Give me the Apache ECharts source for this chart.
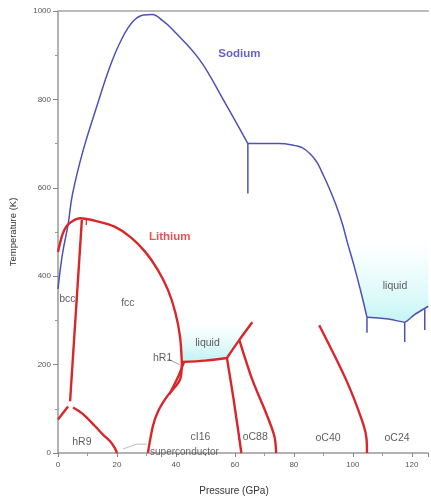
<!DOCTYPE html>
<html><head><meta charset="utf-8">
<script src="https://cdn.jsdelivr.net/npm/echarts@6/dist/echarts.min.js"></script>
<style>html,body{margin:0;padding:0;background:#fff}#c{width:431px;height:501px}</style>
</head><body><div id="c"></div>
<script>
// Tick labels
const xTickLabels = [0, 20, 40, 60, 80, 100, 120];
const yTickLabels = [0, 200, 400, 600, 800, 1000];

// Sodium (P [GPa], T [K])
const naMelt = [[0,371],[1.5,450],[3.4,516],[4.9,585],[8.5,684],[13.2,785],[17.6,874],[21.5,935],[25.4,976],[29,991],[32,992],[35.5,978],[39,957],[48,890],[56,800],[64.4,700]];
const naPlateau = [[64.4,700],[75,700],[79.4,697],[82.8,691],[85.5,677],[87.9,657],[89.9,630],[92,599],[94.3,561],[96.4,520],[98,480],[100.4,424],[102.8,363],[104.8,307]];
const naLow = [[104.8,307],[112.2,303],[117.6,296],[120.7,312],[125.6,332]];
const naVert = [[64.4,700],[64.4,587]];
const naTick1 = [[104.8,307],[104.8,272]];
const naTick2 = [[117.6,296],[117.6,251]];
const naTick3 = [[124.4,325],[124.4,278]];

// Lithium
const liMelt = [[0,455],[1.5,494],[3,514],[5,525],[7.5,531],[13.4,524],[19.2,512],[24.7,488],[29.6,455],[33.8,415],[37.3,369],[39.8,318],[41.4,263],[42,206]];
const liBccFcc = [[8.1,528],[4.1,117]];
const liPeakTick = [[9.6,531],[9.6,516]];
const liHR9Left = [[0,76],[3.4,105]];
const liHR9Right = [[5.1,103],[8.5,88],[12.5,61],[15.5,40],[17.6,27],[19.3,11],[20,0]];
const liFccCI16 = [[30.5,0],[32.2,61],[34,95],[37,128],[41.4,166],[42,206]];
const liHR1 = [[37.8,133],[40.6,170],[42.7,205]];
const liTriple = [[42,206],[50,209],[57.3,215]];
const liUpper = [[57.3,215],[61.5,256],[65.9,296]];
const liCI16OC88 = [[57.3,215],[59.6,120],[62.2,0]];
const liOC88OC40 = [[61.5,256],[65.9,166],[70.6,90],[73.4,38],[74,0]];
const liOC40OC24 = [[88.6,289],[97.7,166],[103,76],[104.6,35],[104.8,0]];

// Leader lines
const hR1Leader = [[37.2,213],[41.2,200]];
const scLeader = [[22,9],[26.7,20],[30,20]];

// Region labels [text, P, T]
const regionLabels = [
  ['bcc',3.2,357],['fcc',23.7,348],['liquid',50.7,258],['hR1',35.5,224],
  ['hR9',8.1,34],['cI16',48.3,45],['oC88',66.9,45],['oC40',91.6,43],
  ['oC24',115,43],['liquid',114.3,386]
];
const titleLabels = [['Sodium',61.5,906,'#3b3bb8'],['Lithium',37.9,491,'#e02828']];
const smallLabels = [['superconductor',42.9,11]];

const NA = '#5050b4', LI = '#d9262a';
function line(data, color, width, smooth, extra) {
  return Object.assign({type:'line', data:data, showSymbol:false, symbol:'none', smooth:smooth||0,
    lineStyle:{color:color, width:width}, silent:true, z:3}, extra||{});
}
const liFill = {origin:'end', color:new echarts.graphic.LinearGradient(0,322,0,367,[
  {offset:0,color:'rgba(190,245,245,0)'},{offset:1,color:'rgba(140,230,230,0.95)'}],true)};
const naFill = {origin:'end', color:new echarts.graphic.LinearGradient(0,240,0,325,[
  {offset:0,color:'rgba(200,248,248,0)'},{offset:1,color:'rgba(165,238,238,0.95)'}],true)};

const series = [
  line(liTriple, LI, 2.4, 0.3, {areaStyle:liFill, z:2}),
  line(liUpper, LI, 2.4, 0.2, {areaStyle:liFill, z:2}),
  line(naPlateau, NA, 1.5, 0.3, {areaStyle:naFill, z:2}),
  line(naLow, NA, 1.5, 0.2, {areaStyle:naFill, z:2}),
  line(naMelt, NA, 1.5, 0.4),
  line(naVert, NA, 1.5),
  line(naTick1, NA, 1.5),
  line(naTick2, NA, 1.5),
  line(naTick3, NA, 1.5),
  line(liMelt, LI, 2.4, 0.3),
  line(liBccFcc, LI, 2.4),
  line(liPeakTick, LI, 1.2),
  line(liHR9Left, LI, 2.4),
  line(liHR9Right, LI, 2.4, 0.3),
  line(liFccCI16, LI, 2.4, 0.3),
  line(liHR1, LI, 2.4, 0.2),
  line(liCI16OC88, LI, 2.4, 0.2),
  line(liOC88OC40, LI, 2.4, 0.3),
  line(liOC40OC24, LI, 2.4, 0.3),
  line(hR1Leader, '#888', 0.8),
  line(scLeader, '#aaa', 0.8),
  {type:'scatter', symbolSize:0, silent:true, z:5,
   data: regionLabels.map(d=>({value:[d[1],d[2]], name:d[0]})),
   label:{show:true, position:'inside', offset:[0,4], formatter:'{b}', color:'#333', fontSize:10.5, fontFamily:'Liberation Sans'}},
  {type:'scatter', symbolSize:0, silent:true, z:5,
   data: titleLabels.map(d=>({value:[d[1],d[2]], name:d[0], label:{color:d[3]}})),
   label:{show:true, position:'inside', offset:[0,1], formatter:'{b}', fontWeight:'bold', fontSize:11.5, fontFamily:'Liberation Sans'}},
  {type:'scatter', symbolSize:0, silent:true, z:5,
   data: smallLabels.map(d=>({value:[d[1],d[2]], name:d[0]})),
   label:{show:true, position:'inside', offset:[0,4], formatter:'{b}', color:'#444', fontSize:10, fontFamily:'Liberation Sans'}}
];

const chart = echarts.init(document.getElementById('c'), null, {renderer:'canvas'});
chart.setOption({
  animation:false,
  backgroundColor:'#fff',
  grid:{left:58, top:11, right:1, bottom:44},
  xAxis:[{type:'value', min:0, max:125.5, interval:20,
    name:'Pressure (GPa)', nameLocation:'middle', nameGap:33,
    nameTextStyle:{color:'#333', fontSize:10, fontFamily:'Liberation Sans', padding:[0,18,0,0]},
    axisLine:{show:true, onZero:false, lineStyle:{color:'#999', width:1.5}},
    axisTick:{show:true, length:4, lineStyle:{color:'#888'}},
    minorTick:{show:true, splitNumber:2, length:3, lineStyle:{color:'#999'}},
    splitLine:{show:false},
    axisLabel:{color:'#555', fontSize:8, margin:8, fontFamily:'Liberation Sans',
      formatter:v=> xTickLabels.indexOf(v)>=0 ? String(v) : ''}},
   {type:'value', position:'top', min:0, max:125.5, show:true,
    axisLine:{show:true, onZero:false, lineStyle:{color:'#bbb', width:2}},
    axisTick:{show:false}, axisLabel:{show:false}, splitLine:{show:false}}],
  yAxis:{type:'value', min:0, max:1000, interval:200,
    name:'Temperature (K)', nameLocation:'middle', nameGap:40,
    nameTextStyle:{color:'#333', fontSize:9.5, fontFamily:'Liberation Sans'},
    axisLine:{show:true, onZero:false, lineStyle:{color:'#999', width:1.5}},
    axisTick:{show:true, length:5, lineStyle:{color:'#888'}},
    minorTick:{show:true, splitNumber:2, length:3, lineStyle:{color:'#999'}},
    splitLine:{show:false},
    axisLabel:{color:'#555', fontSize:8, margin:7, fontFamily:'Liberation Sans',
      formatter:v=> yTickLabels.indexOf(v)>=0 ? String(v) : ''}},
  series:series
});
</script></body></html>
